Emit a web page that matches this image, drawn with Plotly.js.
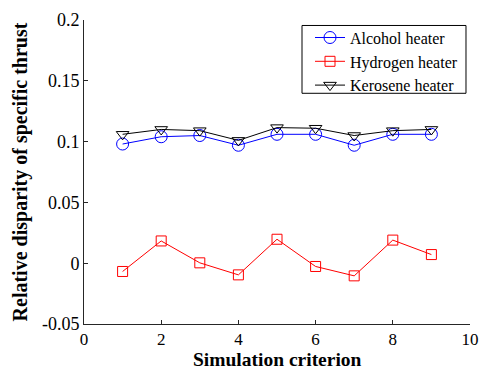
<!DOCTYPE html>
<html>
<head>
<meta charset="utf-8">
<script src="https://cdn.plot.ly/plotly-3.0.1.min.js"></script>
<style>html,body{margin:0;padding:0;background:#fff;}#chart{width:488px;height:369px;}</style>
</head>
<body>
<div id="chart"></div>
<script>
var criterion = [1, 2, 3, 4, 5, 6, 7, 8, 9];
var alcohol = [0.098, 0.104, 0.105, 0.097, 0.106, 0.106, 0.097, 0.106, 0.106];
var hydrogen = [-0.0068, 0.0183, 0.0003, -0.0096, 0.0197, -0.0027, -0.0104, 0.019, 0.0071];
var kerosene = [0.106, 0.110, 0.109, 0.101, 0.1115, 0.111, 0.105, 0.109, 0.110];
var yTickVals = [-0.05, 0, 0.05, 0.1, 0.15, 0.2];
var yTickText = ['-0.05', '0', '0.05', '0.1', '0.15', '0.2'];
var xTickVals = [0, 2, 4, 6, 8, 10];
var xTickText = ['0', '2', '4', '6', '8', '10'];
var xTitle = 'Simulation criterion';
var yTitle = 'Relative disparity of specific thrust';

var FONT = '"Liberation Serif", "Times New Roman", serif';

var traces = [
  {x: criterion, y: alcohol, name: 'Alcohol heater', type: 'scatter', mode: 'lines+markers',
   line: {color: '#0000ff', width: 1},
   marker: {symbol: 'circle-open', size: 12, color: '#0000ff', line: {width: 1, color: '#0000ff'}}},
  {x: criterion, y: hydrogen, name: 'Hydrogen heater', type: 'scatter', mode: 'lines+markers',
   line: {color: '#ff0000', width: 1},
   marker: {symbol: 'square-open', size: 10, color: '#ff0000', line: {width: 1, color: '#ff0000'}}},
  {x: criterion, y: kerosene, name: 'Kerosene heater', type: 'scatter', mode: 'lines+markers',
   line: {color: '#000000', width: 1},
   marker: {symbol: 'triangle-down-open', size: 11, color: '#000000', line: {width: 1, color: '#000000'}}}
];

var layout = {
  width: 488, height: 369,
  margin: {l: 84, r: 18, t: 19.5, b: 44.7, pad: 0},
  paper_bgcolor: '#ffffff', plot_bgcolor: '#ffffff',
  font: {family: FONT, size: 18, color: '#000000'},
  showlegend: true,
  legend: {x: 0.5855, y: 0.998, xanchor: 'left', yanchor: 'top',
    borderwidth: 0, bgcolor: 'rgba(0,0,0,0)',
    font: {family: FONT, size: 16, color: '#000000'}, tracegroupgap: 0},
  shapes: [{type: 'rect', xref: 'paper', yref: 'paper', x0: 0.5648, x1: 0.9896, y0: 0.7589, y1: 0.982,
    line: {color: '#000000', width: 1}, fillcolor: 'rgba(0,0,0,0)', layer: 'above'}],
  annotations: [{text: '<b>' + xTitle + '</b>', xref: 'paper', yref: 'paper', x: 0.5, y: 0,
    xanchor: 'center', yanchor: 'top', yshift: -24, showarrow: false, borderpad: 0,
    font: {family: FONT, size: 19.5, color: '#000000'}}],
  xaxis: {range: [0, 10], tickvals: xTickVals, ticktext: xTickText,
    ticks: 'inside', ticklen: 4, tickcolor: '#262626', showgrid: false, zeroline: false,
    showline: true, linecolor: '#262626', linewidth: 1, mirror: false,
    tickfont: {family: FONT, size: 17, color: '#000000'}},
  yaxis: {range: [-0.05, 0.2], tickvals: yTickVals, ticktext: yTickText,
    ticks: 'inside', ticklen: 4, tickcolor: '#262626', showgrid: false, zeroline: false,
    showline: true, linecolor: '#262626', linewidth: 1, mirror: false,
    tickfont: {family: FONT, size: 18, color: '#000000'},
    title: {text: '<b>' + yTitle + '</b>', font: {family: FONT, size: 20, color: '#000000'}, standoff: 8}}
};

Plotly.newPlot('chart', traces, layout, {displayModeBar: false, staticPlot: true});
</script>
</body>
</html>
